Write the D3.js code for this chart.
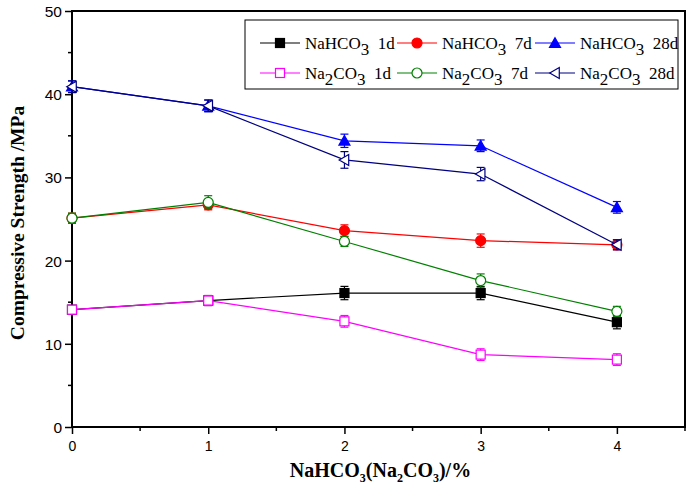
<!DOCTYPE html>
<html><head><meta charset="utf-8">
<script src="https://cdn.jsdelivr.net/npm/d3@7"></script>
<style>body{margin:0;background:#fff}svg{display:block}</style>
</head><body>
<svg id="c" width="695" height="490"></svg>
<script>
const xValues = [0, 1, 2, 3, 4];
const xTicks = [0, 1, 2, 3, 4];
const yTicks = [0, 10, 20, 30, 40, 50];
const seriesNames = ["NaHCO3 1d", "NaHCO3 7d", "NaHCO3 28d", "Na2CO3 1d", "Na2CO3 7d", "Na2CO3 28d"];
const nahco3_1d = [14.1, 15.2, 16.1, 16.1, 12.6];
const nahco3_1d_err = [0.5, 0.6, 0.8, 0.8, 0.8];
const nahco3_7d = [25.1, 26.7, 23.6, 22.4, 21.9];
const nahco3_7d_err = [0.6, 0.6, 0.7, 0.8, 0.6];
const nahco3_28d = [40.9, 38.6, 34.4, 33.8, 26.4];
const nahco3_28d_err = [0.7, 0.7, 0.8, 0.7, 0.7];
const na2co3_1d = [14.1, 15.2, 12.7, 8.7, 8.1];
const na2co3_1d_err = [0.5, 0.6, 0.7, 0.7, 0.7];
const na2co3_7d = [25.1, 27.0, 22.3, 17.6, 13.9];
const na2co3_7d_err = [0.6, 0.8, 0.6, 0.8, 0.6];
const na2co3_28d = [40.9, 38.6, 32.1, 30.4, 21.9];
const na2co3_28d_err = [0.7, 0.7, 1.0, 0.8, 0.6];

const series = [
  {name: seriesNames[0], v: nahco3_1d, e: nahco3_1d_err, color: "#000000", sym: "square", fill: true},
  {name: seriesNames[1], v: nahco3_7d, e: nahco3_7d_err, color: "#ff0000", sym: "circle", fill: true},
  {name: seriesNames[2], v: nahco3_28d, e: nahco3_28d_err, color: "#0000ff", sym: "triup", fill: true},
  {name: seriesNames[3], v: na2co3_1d, e: na2co3_1d_err, color: "#ff00ff", sym: "square", fill: false},
  {name: seriesNames[4], v: na2co3_7d, e: na2co3_7d_err, color: "#008000", sym: "circle", fill: false},
  {name: seriesNames[5], v: na2co3_28d, e: na2co3_28d_err, color: "#000080", sym: "trileft", fill: false}
];

const L = 72, R = 685, T = 11, B = 427;
const svg = d3.select("#c");
const x = d3.scaleLinear().domain([0, 4.5]).range([L, R]);
const y = d3.scaleLinear().domain([0, 50]).range([B, T]);

// minor ticks
const xMinor = d3.range(0.5, 4.6, 1);
const yMinor = d3.range(5, 50, 10);
svg.append("g").selectAll("line").data(xMinor).join("line")
  .attr("x1", d => x(d)).attr("x2", d => x(d)).attr("y1", B).attr("y2", B + 4)
  .attr("stroke", "#000").attr("stroke-width", 1.5);
svg.append("g").selectAll("line").data(yMinor).join("line")
  .attr("y1", d => y(d)).attr("y2", d => y(d)).attr("x1", L).attr("x2", L - 4)
  .attr("stroke", "#000").attr("stroke-width", 1.5);

const xAxis = svg.append("g").attr("transform", `translate(0,${B})`)
  .call(d3.axisBottom(x).tickValues(xTicks).tickFormat(d3.format("d")).tickSize(7).tickSizeOuter(0));
const yAxis = svg.append("g").attr("transform", `translate(${L},0)`)
  .call(d3.axisLeft(y).tickValues(yTicks).tickFormat(d3.format("d")).tickSize(7).tickSizeOuter(0));
[xAxis, yAxis].forEach(a => {
  a.select(".domain").remove();
  a.selectAll(".tick line").attr("stroke-width", 1.5);
  a.selectAll(".tick text").attr("font-family", "Liberation Sans, Arial, sans-serif").attr("fill", "#000");
});
xAxis.selectAll(".tick text").attr("font-size", 14).attr("y", 14).attr("dy", "0.71em");
yAxis.selectAll(".tick text").attr("font-size", 15.5).attr("dy", "0.35em").attr("x", -10);

// frame
svg.append("rect").attr("x", L).attr("y", T).attr("width", R - L).attr("height", B - T)
  .attr("fill", "none").attr("stroke", "#000").attr("stroke-width", 2);

function symbolPath(g, sym, cx, cy, color, fill, s) {
  const f = fill ? color : "#fff";
  if (sym === "square") {
    g.append("rect").attr("x", cx - s/2).attr("y", cy - s/2).attr("width", s).attr("height", s)
      .attr("fill", f).attr("stroke", color).attr("stroke-width", 1.2);
  } else if (sym === "circle") {
    g.append("circle").attr("cx", cx).attr("cy", cy).attr("r", s/2 + 0.5)
      .attr("fill", f).attr("stroke", color).attr("stroke-width", 1.2);
  } else if (sym === "triup") {
    const h = s * 0.95;
    g.append("path").attr("d", `M${cx},${cy - h/2 - 1}L${cx + s/2 + 1},${cy + h/2}L${cx - s/2 - 1},${cy + h/2}Z`)
      .attr("fill", f).attr("stroke", color).attr("stroke-width", 1.2);
  } else if (sym === "trileft") {
    const h = s * 0.95;
    g.append("path").attr("d", `M${cx - h/2 - 1},${cy}L${cx + h/2},${cy - s/2 - 1}L${cx + h/2},${cy + s/2 + 1}Z`)
      .attr("fill", f).attr("stroke", color).attr("stroke-width", 1.2);
  }
}

const line = d3.line().x((d, i) => x(xValues[i])).y(d => y(d));
series.forEach(s => {
  const g = svg.append("g");
  g.append("path").attr("d", line(s.v)).attr("fill", "none").attr("stroke", s.color).attr("stroke-width", 1.2);
  s.v.forEach((v, i) => {
    const cx = x(xValues[i]);
    const y1 = y(v - s.e[i]), y2 = y(v + s.e[i]);
    g.append("line").attr("x1", cx).attr("x2", cx).attr("y1", y1).attr("y2", y2).attr("stroke", s.color).attr("stroke-width", 1.2);
    [y1, y2].forEach(yy => g.append("line").attr("x1", cx - 4).attr("x2", cx + 4).attr("y1", yy).attr("y2", yy)
      .attr("stroke", s.color).attr("stroke-width", 1.2));
    symbolPath(g, s.sym, cx, y(v), s.color, s.fill, 9);
  });
});

// legend
const lg = svg.append("g");
lg.append("rect").attr("x", 245).attr("y", 20).attr("width", 433).attr("height", 69)
  .attr("fill", "#fff").attr("stroke", "#000").attr("stroke-width", 1);
const colX = [260, 397, 535];
const rowY = [43, 73];
series.forEach((s, k) => {
  const col = k % 3, row = Math.floor(k / 3);
  const lx = colX[col], ly = rowY[row];
  lg.append("line").attr("x1", lx).attr("x2", lx + 40).attr("y1", ly).attr("y2", ly).attr("stroke", s.color).attr("stroke-width", 1.2);
  symbolPath(lg, s.sym, lx + 20, ly, s.color, s.fill, 9);
  const parts = s.name.split(" ");
  const t = lg.append("text").attr("x", lx + 45).attr("y", ly + 6)
    .attr("font-family", "Liberation Serif, Times New Roman, serif").attr("font-size", 17).attr("fill", "#000");
  const chem = parts[0];
  if (chem === "NaHCO3") {
    t.append("tspan").text("NaHCO");
    t.append("tspan").text("3").attr("dy", 6);
  } else {
    t.append("tspan").text("Na");
    t.append("tspan").text("2").attr("dy", 6);
    t.append("tspan").text("CO").attr("dy", -6);
    t.append("tspan").text("3").attr("dy", 6);
  }
  t.append("tspan").text("\u00a0\u00a0" + parts[1]).attr("dy", -6);
});

// axis titles
const xt = svg.append("text").attr("x", (L + R) / 2 + 2).attr("y", 477).attr("text-anchor", "middle")
  .attr("font-family", "Liberation Serif, Times New Roman, serif").attr("font-weight", "bold").attr("font-size", 20);
xt.append("tspan").text("NaHCO");
xt.append("tspan").text("3").attr("dy", 5).attr("font-size", 12);
xt.append("tspan").text("(Na").attr("dy", -5);
xt.append("tspan").text("2").attr("dy", 5).attr("font-size", 12);
xt.append("tspan").text("CO").attr("dy", -5);
xt.append("tspan").text("3").attr("dy", 5).attr("font-size", 12);
xt.append("tspan").text(")/%").attr("dy", -5);

svg.append("text").attr("transform", `translate(17,${(T + B) / 2 + 4}) rotate(-90)`).attr("text-anchor", "middle")
  .attr("dy", "0.35em")
  .attr("font-family", "Liberation Serif, Times New Roman, serif").attr("font-weight", "bold").attr("font-size", 19.5)
  .text("Compressive Strength /MPa");
</script>
</body></html>
